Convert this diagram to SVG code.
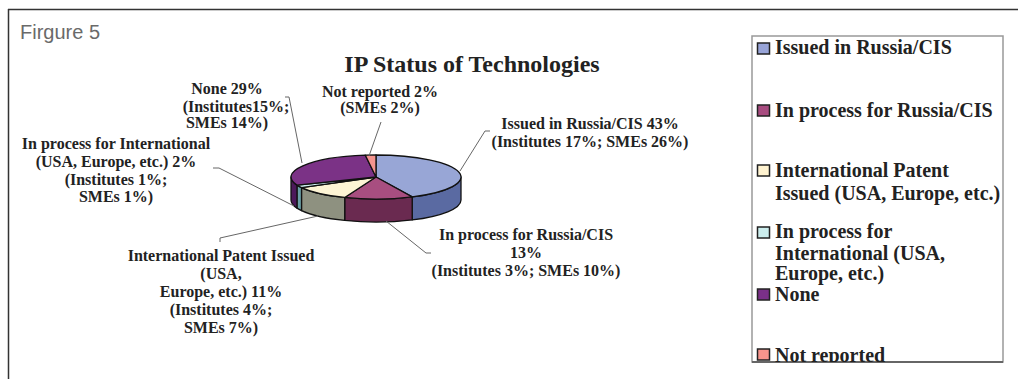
<svg xmlns="http://www.w3.org/2000/svg" width="1018" height="379" viewBox="0 0 1018 379">
<style>
.lbl{font-family:"Liberation Serif","Times New Roman",serif;font-weight:bold;font-size:16px;fill:#222;text-anchor:middle}
.leg{font-family:"Liberation Serif","Times New Roman",serif;font-weight:bold;font-size:20px;fill:#222}
.ttl{font-family:"Liberation Serif","Times New Roman",serif;font-weight:bold;font-size:24px;fill:#222;text-anchor:middle}
.lead{fill:none;stroke:#666;stroke-width:1}
.pie path{stroke:#111;stroke-width:1.3;stroke-linejoin:round}
.sw{stroke:#222;stroke-width:1.5}
</style>
<defs>
<clipPath id="legclip"><rect x="752" y="36" width="251" height="326"/></clipPath>
</defs>
<rect width="1018" height="379" fill="#fff"/>
<g id="frame">
<line x1="8" y1="9.5" x2="1018" y2="9.5" stroke="#333" stroke-width="1.5"/>
<line x1="8.5" y1="9" x2="8.5" y2="379" stroke="#333" stroke-width="1.5"/>
<text x="20" y="39" font-family="'Liberation Sans',Arial,sans-serif" font-size="20" fill="#6a6a6a">Firgure 5</text>
</g>
<text class="ttl" x="472" y="72">IP Status of Technologies</text>
<g id="pie" class="pie">
<path d="M461,177 A85,22 0 0 1 412.19,196.91 L412.19,219.91 A85,22 0 0 0 461,200 Z" fill="#5a6aa2"/>
<path d="M412.19,196.91 A85,22 0 0 1 344.71,197.46 L344.71,220.46 A85,22 0 0 0 412.19,219.91 Z" fill="#6a2a50"/>
<path d="M344.71,197.46 A85,22 0 0 1 301.51,187.6 L301.51,210.6 A85,22 0 0 0 344.71,220.46 Z" fill="#8e9180"/>
<path d="M301.51,187.6 A85,22 0 0 1 296.97,185.1 L296.97,208.1 A85,22 0 0 0 301.51,210.6 Z" fill="#6aa0a6"/>
<path d="M296.97,185.1 A85,22 0 0 1 291,177 L291,200 A85,22 0 0 0 296.97,208.1 Z" fill="#4c1a5a"/>
<path d="M376,177 L376,155 A85,22 0 0 1 412.19,196.91 Z" fill="#98a6d6"/>
<path d="M376,177 L412.19,196.91 A85,22 0 0 1 344.71,197.46 Z" fill="#a84e80"/>
<path d="M376,177 L344.71,197.46 A85,22 0 0 1 301.51,187.6 Z" fill="#fdf4d4"/>
<path d="M376,177 L301.51,187.6 A85,22 0 0 1 296.97,185.1 Z" fill="#cdeeee"/>
<path d="M376,177 L296.97,185.1 A85,22 0 0 1 365.35,155.17 Z" fill="#7b3286"/>
<path d="M376,177 L365.35,155.17 A85,22 0 0 1 376,155 Z" fill="#f4948e"/>
</g>
<g id="connectors">
<polyline class="lead" points="285,97 289,97 302,163"/>
<polyline class="lead" points="381,122 369,156"/>
<polyline class="lead" points="490,131 485,131 460,171"/>
<polyline class="lead" points="386,221 426,253 431,253"/>
<polyline class="lead" points="213,168 219,168 294,206"/>
<polyline class="lead" points="220,242 220,238 318,216"/>
</g>
<g id="label-none">
<text class="lbl" x="227" y="94">None 29%</text>
<text class="lbl" x="236" y="112">(Institutes15%;</text>
<text class="lbl" x="227" y="128">SMEs 14%)</text>
</g>
<g id="label-notreported">
<text class="lbl" x="380" y="97">Not reported 2%</text>
<text class="lbl" x="380" y="113">(SMEs 2%)</text>
</g>
<g id="label-issued-russia">
<text class="lbl" x="590" y="129">Issued in Russia/CIS 43%</text>
<text class="lbl" x="590" y="147">(Institutes 17%; SMEs 26%)</text>
</g>
<g id="label-process-russia">
<text class="lbl" x="526" y="240">In process for Russia/CIS</text>
<text class="lbl" x="526" y="258">13%</text>
<text class="lbl" x="526" y="276">(Institutes 3%; SMEs 10%)</text>
</g>
<g id="label-process-intl">
<text class="lbl" x="116" y="149">In process for International</text>
<text class="lbl" x="116" y="167">(USA, Europe, etc.) 2%</text>
<text class="lbl" x="116" y="185">(Institutes 1%;</text>
<text class="lbl" x="116" y="202">SMEs 1%)</text>
</g>
<g id="label-intl-patent">
<text class="lbl" x="221" y="261">International Patent Issued</text>
<text class="lbl" x="221" y="279">(USA,</text>
<text class="lbl" x="221" y="297">Europe, etc.) 11%</text>
<text class="lbl" x="221" y="315">(Institutes 4%;</text>
<text class="lbl" x="221" y="333">SMEs 7%)</text>
</g>
<g id="legend">
<rect x="752" y="36" width="251" height="326" fill="#fff" stroke="#999" stroke-width="1.5"/>
<line x1="752" y1="362" x2="1003" y2="362" stroke="#666" stroke-width="2"/>
<g clip-path="url(#legclip)">
<rect class="sw" x="757.5" y="43" width="12" height="11" fill="#98a4d8"/>
<text class="leg" x="775" y="54">Issued in Russia/CIS</text>
<rect class="sw" x="757.5" y="105" width="12" height="11" fill="#a84c80"/>
<text class="leg" x="775" y="117">In process for Russia/CIS</text>
<rect class="sw" x="757.5" y="165" width="12" height="11" fill="#fff3d0"/>
<text class="leg" x="775" y="177">International Patent</text>
<text class="leg" x="775" y="200">Issued (USA, Europe, etc.)</text>
<rect class="sw" x="757.5" y="227" width="12" height="11" fill="#cceeee"/>
<text class="leg" x="775" y="238">In process for</text>
<text class="leg" x="775" y="260">International (USA,</text>
<text class="leg" x="775" y="280">Europe, etc.)</text>
<rect class="sw" x="757.5" y="289" width="12" height="11" fill="#7b3088"/>
<text class="leg" x="775" y="301">None</text>
<rect class="sw" x="757.5" y="349" width="12" height="11" fill="#f8958c"/>
<text class="leg" x="775" y="362">Not reported</text>
</g>
</g>
</svg>
